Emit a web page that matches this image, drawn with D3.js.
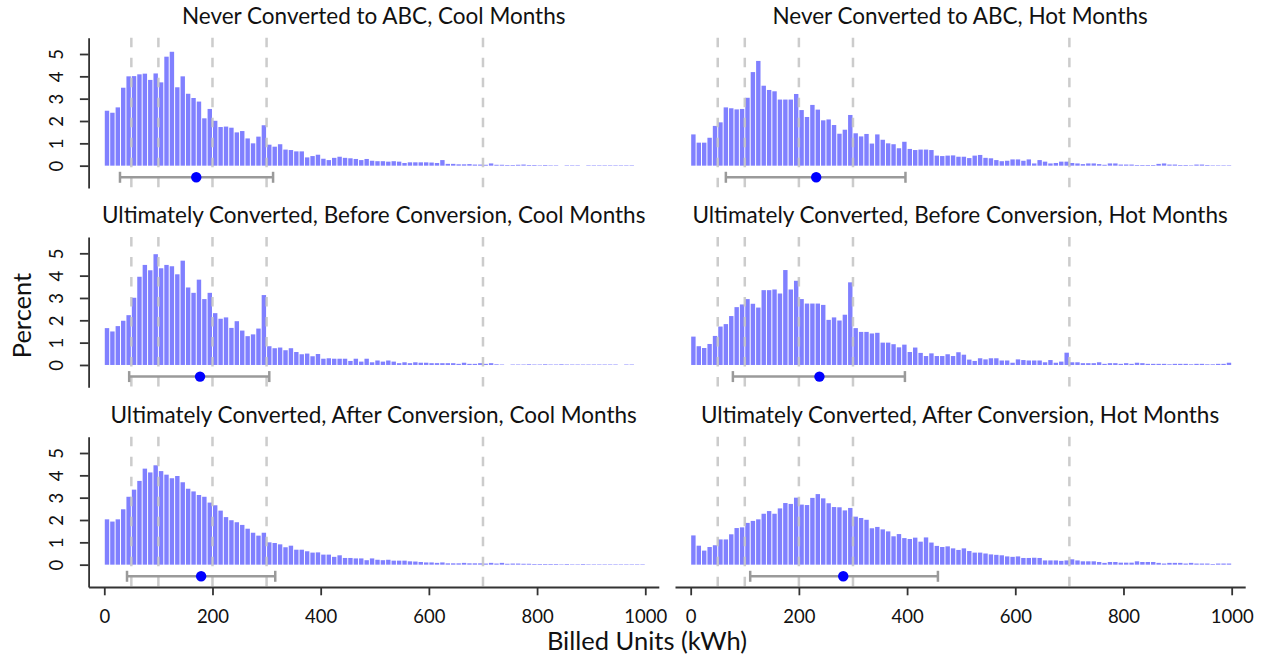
<!DOCTYPE html>
<head>
  <title>Billed Units histograms</title>
  <meta charset="utf-8">
</head>
<style>
  body {
    margin: 0;
    background: #fff;
  }
  text {
    font-family: Lato, "Noto Sans", sans-serif;
    fill: #111;
  }
  .axis path, .axis line {
    stroke: #333;
    stroke-width: 1.8px;
  }
  .ref_line {
    stroke: #c4c4c4;
    stroke-width: 2.5px;
    stroke-dasharray: 9.5, 10.5;
  }
  .bar {
    fill: #8080ff;
  }
  .interval {
    stroke: #9a9a9a;
    stroke-width: 2.5px;
  }
</style>
<body>
  <svg id="chart" width="1265" height="659"></svg>
<script src="https://cdn.jsdelivr.net/npm/d3@7/dist/d3.min.js"></script>
<script>
  // percent of bills in each 10 kWh bin, 0-10 ... 990-1000
  var binWidth = 10;

  var neverCool = [
    2.46, 2.37, 2.61, 3.49, 4.00, 4.01, 4.09, 4.12, 3.84, 4.13,
    3.73, 4.88, 5.10, 3.51, 4.00, 3.22, 3.03, 2.87, 2.12, 2.54,
    2.01, 1.73, 1.75, 1.70, 1.49, 1.55, 1.22, 1.00, 1.30, 1.81,
    0.94, 0.85, 0.96, 0.72, 0.70, 0.64, 0.64, 0.37, 0.43, 0.49,
    0.31, 0.25, 0.35, 0.40, 0.35, 0.33, 0.30, 0.25, 0.30, 0.22,
    0.20, 0.20, 0.18, 0.20, 0.18, 0.12, 0.15, 0.15, 0.15, 0.15,
    0.14, 0.12, 0.25, 0.08, 0.08, 0.06, 0.06, 0.07, 0.05, 0.05,
    0.04, 0.10, 0.04, 0.04, 0.03, 0.03, 0.04, 0.05, 0.03, 0.03,
    0.02, 0.03, 0.02, 0.02, 0, 0.02, 0.02, 0.02, 0, 0.02,
    0.02, 0.02, 0.02, 0.02, 0.02, 0.02, 0.02, 0.02, 0, 0
  ];
  var neverHot = [
    1.40, 1.03, 1.03, 1.25, 1.78, 1.94, 2.61, 2.57, 2.52, 2.54,
    3.04, 4.19, 4.69, 3.58, 3.39, 3.33, 2.96, 2.96, 2.96, 3.21,
    2.49, 2.18, 2.72, 2.51, 2.03, 2.07, 1.82, 1.43, 1.61, 2.27,
    1.45, 1.31, 1.42, 0.99, 1.40, 1.16, 1.00, 0.96, 0.78, 1.07,
    0.75, 0.70, 0.72, 0.72, 0.70, 0.45, 0.43, 0.45, 0.46, 0.40,
    0.40, 0.34, 0.45, 0.48, 0.35, 0.33, 0.25, 0.20, 0.22, 0.28,
    0.28, 0.22, 0.28, 0.10, 0.25, 0.18, 0.10, 0.12, 0.18, 0.18,
    0.12, 0.10, 0.07, 0.10, 0.10, 0.07, 0.04, 0.10, 0.10, 0.05,
    0.05, 0.05, 0.03, 0.03, 0.03, 0.03, 0.08, 0.10, 0.05, 0.05,
    0.03, 0.03, 0.02, 0.05, 0.05, 0.03, 0.02, 0.02, 0.02, 0.02
  ];
  var beforeCool = [
    1.65, 1.50, 1.74, 1.98, 2.23, 3.01, 3.95, 4.48, 4.24, 4.96,
    4.33, 4.48, 4.42, 4.06, 4.67, 3.47, 3.23, 3.82, 2.95, 3.23,
    2.32, 2.07, 2.13, 1.66, 1.96, 1.54, 1.29, 1.37, 1.63, 3.13,
    0.84, 0.75, 0.78, 0.66, 0.75, 0.58, 0.48, 0.51, 0.39, 0.49,
    0.28, 0.30, 0.28, 0.28, 0.28, 0.18, 0.28, 0.15, 0.28, 0.12,
    0.20, 0.15, 0.20, 0.15, 0.08, 0.12, 0.08, 0.12, 0.10, 0.10,
    0.08, 0.08, 0.08, 0.08, 0.08, 0.05, 0.10, 0.05, 0.05, 0.08,
    0.05, 0.08, 0.03, 0.02, 0, 0.02, 0.02, 0.02, 0.03, 0.02,
    0.02, 0.03, 0.02, 0.02, 0.03, 0.02, 0.02, 0.02, 0.02, 0.02,
    0.02, 0.02, 0.02, 0.02, 0.02, 0, 0.02, 0.02, 0, 0
  ];
  var beforeHot = [
    1.27, 0.84, 0.76, 0.94, 1.30, 1.72, 1.83, 2.19, 2.59, 2.71,
    2.95, 2.74, 2.57, 3.35, 3.35, 3.38, 3.20, 4.25, 3.38, 3.77,
    2.95, 2.75, 2.75, 2.75, 2.69, 2.02, 2.13, 1.99, 2.25, 3.70,
    1.65, 1.48, 1.48, 1.41, 1.44, 1.00, 1.00, 0.93, 0.79, 0.91,
    0.58, 0.78, 0.54, 0.40, 0.52, 0.40, 0.40, 0.48, 0.40, 0.57,
    0.46, 0.24, 0.18, 0.30, 0.25, 0.30, 0.30, 0.20, 0.20, 0.10,
    0.25, 0.22, 0.20, 0.20, 0.20, 0.12, 0.22, 0.10, 0.15, 0.55,
    0.12, 0.12, 0.08, 0.08, 0.08, 0.12, 0.05, 0.08, 0.08, 0.05,
    0.08, 0.05, 0.10, 0.08, 0.05, 0.05, 0.05, 0.05, 0.03, 0.05,
    0.05, 0.05, 0.03, 0.05, 0.05, 0.03, 0.03, 0.05, 0.05, 0.10
  ];
  var afterCool = [
    2.03, 1.93, 2.03, 2.48, 3.04, 3.36, 3.75, 4.30, 4.13, 4.45,
    4.19, 4.03, 3.87, 3.97, 3.69, 3.40, 3.28, 3.12, 3.04, 2.78,
    2.66, 2.42, 2.13, 1.99, 1.90, 1.78, 1.61, 1.43, 1.30, 1.43,
    1.00, 0.97, 0.91, 0.78, 0.85, 0.67, 0.67, 0.60, 0.54, 0.55,
    0.45, 0.45, 0.35, 0.42, 0.30, 0.30, 0.28, 0.28, 0.20, 0.28,
    0.22, 0.20, 0.22, 0.18, 0.18, 0.18, 0.15, 0.14, 0.12, 0.10,
    0.10, 0.08, 0.10, 0.06, 0.06, 0.06, 0.08, 0.06, 0.06, 0.06,
    0.05, 0.08, 0.05, 0.08, 0.04, 0.05, 0.05, 0.04, 0.04, 0.03,
    0.03, 0.03, 0.03, 0.03, 0.02, 0.03, 0.02, 0.02, 0.03, 0.02,
    0.02, 0.02, 0.02, 0.02, 0.02, 0.02, 0.02, 0.02, 0.02, 0.02
  ];
  var afterHot = [
    1.31, 0.85, 0.63, 0.79, 0.87, 1.13, 1.13, 1.36, 1.64, 1.67,
    1.87, 1.96, 2.03, 2.28, 2.40, 2.28, 2.52, 2.76, 2.72, 3.00,
    2.69, 2.67, 2.99, 3.16, 2.97, 2.75, 2.58, 2.57, 2.43, 2.54,
    2.15, 2.09, 2.01, 1.63, 1.69, 1.58, 1.49, 1.27, 1.37, 1.19,
    1.15, 1.21, 1.03, 1.22, 0.99, 0.84, 0.79, 0.82, 0.73, 0.66,
    0.73, 0.61, 0.54, 0.54, 0.50, 0.46, 0.44, 0.42, 0.37, 0.35,
    0.37, 0.30, 0.30, 0.31, 0.30, 0.19, 0.19, 0.19, 0.17, 0.19,
    0.24, 0.19, 0.15, 0.15, 0.15, 0.12, 0.08, 0.12, 0.12, 0.09,
    0.09, 0.09, 0.15, 0.12, 0.12, 0.12, 0.08, 0.05, 0.08, 0.08,
    0.08, 0.05, 0.08, 0.05, 0.05, 0.05, 0.03, 0.05, 0.05, 0.05
  ];

  var titles = [
    "Never Converted to ABC, Cool Months",
    "Never Converted to ABC, Hot Months",
    "Ultimately Converted, Before Conversion, Cool Months",
    "Ultimately Converted, Before Conversion, Hot Months",
    "Ultimately Converted, After Conversion, Cool Months",
    "Ultimately Converted, After Conversion, Hot Months"
  ];
  var series = [neverCool, neverHot, beforeCool, beforeHot, afterCool, afterHot];

  // interval drawn under each histogram
  var intervalLow  = [29, 65, 46, 78, 42, 110];
  var intervalMean = [170, 232, 177, 238, 179, 282];
  var intervalHigh = [312, 397, 305, 396, 316, 457];

  var refLines = [50, 100, 200, 300, 700];
  var xTicks = [0, 200, 400, 600, 800, 1000];
  var yTicks = [0, 1, 2, 3, 4, 5];

  var svg = d3.select('#chart');

  var colLeft = [88.6, 675.0],
      colRight = [658.8, 1245.2],
      rowTop = [37.7, 237.0, 436.7],
      rowHeight = 150.3;

  function translate(x, y) {
    return 'translate(' + x + ', ' + y + ')';
  }

  series.forEach(function(values, i) {
    var col = i % 2, row = Math.floor(i / 2);
    var top = rowTop[row], bottom = top + rowHeight;

    var x = d3.scaleLinear().domain([-29, 1025]).range([colLeft[col], colRight[col]]);
    var y = d3.scaleLinear().domain([-1, 5.73]).range([bottom, top]);

    var g = svg.append('g').attr('class', 'panel');

    g.append('text')
      .attr('x', (colLeft[col] + colRight[col]) / 2)
      .attr('y', top - 14.2)
      .attr('text-anchor', 'middle')
      .attr('font-size', 22.5)
      .text(titles[i]);

    // histogram bars
    g.selectAll('.bar')
        .data(values)
      .enter().append('rect')
        .attr('class', 'bar')
        .attr('x', (d, k) => x(k * binWidth) + 0.5)
        .attr('width', (d, k) => x((k + 1) * binWidth) - x(k * binWidth) - 1)
        .attr('y', d => y(d))
        .attr('height', d => y(0) - y(d));

    g.selectAll('.ref_line')
        .data(refLines)
      .enter().append('line')
        .attr('class', 'ref_line')
        .attr('x1', d => x(d))
        .attr('x2', d => x(d))
        .attr('y1', top)
        .attr('y2', bottom)
        .attr('opacity', 0.85);

    // interval with mean point
    var yi = y(-0.52);
    g.append('line')
      .attr('class', 'interval')
      .attr('x1', x(intervalLow[i])).attr('x2', x(intervalHigh[i]))
      .attr('y1', yi).attr('y2', yi);
    [intervalLow[i], intervalHigh[i]].forEach(function(v) {
      g.append('line')
        .attr('class', 'interval')
        .attr('x1', x(v)).attr('x2', x(v))
        .attr('y1', yi - 5.5).attr('y2', yi + 5.5);
    });
    g.append('circle')
      .attr('cx', x(intervalMean[i]))
      .attr('cy', yi)
      .attr('r', 5.2)
      .attr('fill', '#0000ff');

    if (col === 0) {
      var yAxis = d3.axisLeft(y).tickValues(yTicks).tickFormat(d3.format('d'))
        .tickSizeInner(8.7).tickSizeOuter(0);
      var ya = g.append('g')
        .attr('class', 'axis')
        .attr('transform', translate(colLeft[col], 0))
        .call(yAxis);
      ya.selectAll('text')
        .attr('transform', 'rotate(-90)')
        .attr('x', 0)
        .attr('y', -25.5)
        .attr('dy', 0)
        .attr('text-anchor', 'middle')
        .attr('font-size', 18.5)
        .style('font-family', 'Lato, sans-serif')
        .attr('fill', '#111');
    }

    if (row === 2) {
      var xAxis = d3.axisBottom(x).tickValues(xTicks).tickFormat(d3.format('d'))
        .tickSizeInner(8.3).tickSizeOuter(0);
      var xa = g.append('g')
        .attr('class', 'axis')
        .attr('transform', translate(0, bottom))
        .call(xAxis);
      xa.selectAll('text')
        .attr('y', 36)
        .attr('dy', 0)
        .attr('font-size', 18.5)
        .style('font-family', 'Lato, sans-serif')
        .attr('fill', '#111');
    }
  });

  svg.append('text')
    .attr('x', 647)
    .attr('y', 650)
    .attr('text-anchor', 'middle')
    .attr('font-size', 25.5)
    .text('Billed Units (kWh)');

  svg.append('text')
    .attr('transform', translate(31, 315.5) + ' rotate(-90)')
    .attr('text-anchor', 'middle')
    .attr('font-size', 25.5)
    .text('Percent');
</script>
</body>
